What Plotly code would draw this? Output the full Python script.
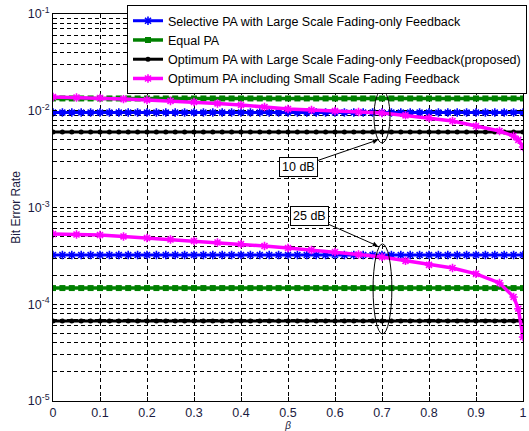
import plotly.graph_objects as go
import math

# ---- data ----
BETA = [0.00, 0.02, 0.04, 0.06, 0.08, 0.10, 0.12, 0.14, 0.16, 0.18,
        0.20, 0.22, 0.24, 0.26, 0.28, 0.30, 0.32, 0.34, 0.36, 0.38,
        0.40, 0.42, 0.44, 0.46, 0.48, 0.50, 0.52, 0.54, 0.56, 0.58,
        0.60, 0.62, 0.64, 0.66, 0.68, 0.70, 0.72, 0.74, 0.76, 0.78,
        0.80, 0.82, 0.84, 0.86, 0.88, 0.90, 0.92, 0.94, 0.96, 0.98, 1.00]

# constant-BER schemes (value independent of beta)
SEL_10DB = 0.00958
EQ_10DB = 0.0134
OPT_10DB = 0.00603
SEL_25DB = 3.23e-4
EQ_25DB = 1.47e-4
OPT_25DB = 6.71e-5

# optimum PA including small scale fading feedback
BETA_SSF = [0.00, 0.05, 0.10, 0.15, 0.20, 0.25, 0.30, 0.35, 0.40, 0.45,
            0.50, 0.55, 0.60, 0.65, 0.70, 0.75, 0.80, 0.85, 0.90, 0.95,
            0.98, 0.99, 1.00]
SSF_10DB = [0.01387, 0.01370, 0.01355, 0.01320, 0.01292, 0.01262, 0.01232,
            0.01190, 0.01146, 0.01095, 0.01042, 0.01018, 0.00994, 0.00971,
            0.00948, 0.00895, 0.00841, 0.00783, 0.00695, 0.00617,
            0.00548, 0.00500, 0.00422]
SSF_25DB = [5.32e-4, 5.26e-4, 5.20e-4, 5.02e-4, 4.84e-4, 4.67e-4, 4.51e-4,
            4.35e-4, 4.19e-4, 4.00e-4, 3.81e-4, 3.64e-4, 3.47e-4, 3.27e-4,
            3.08e-4, 2.81e-4, 2.55e-4, 2.37e-4, 2.06e-4, 1.66e-4,
            1.19e-4, 0.90e-4, 4.59e-5]

NAMES = ["Selective PA with Large Scale Fading-only Feedback",
         "Equal PA",
         "Optimum PA with Large Scale Fading-only Feedback(proposed)",
         "Optimum PA including Small Scale Fading Feedback"]
COLORS = ["#0000ff", "#008000", "#000000", "#ff00ff"]

X_TICKS = [0, 0.1, 0.2, 0.3, 0.4, 0.5, 0.6, 0.7, 0.8, 0.9, 1]
X_TICK_TEXT = ["0", "0.1", "0.2", "0.3", "0.4", "0.5", "0.6", "0.7", "0.8", "0.9", "1"]
Y_TICKS = [1e-5, 1e-4, 1e-3, 1e-2, 1e-1]
Y_TICK_TEXT = ["10<sup>-5</sup>", "10<sup>-4</sup>", "10<sup>-3</sup>",
               "10<sup>-2</sup>", "10<sup>-1</sup>"]

fig = go.Figure()

n = len(BETA)
styles = [
    dict(width=3, marker=dict(symbol="asterisk-open", size=7, line=dict(width=1.6, color=COLORS[0]))),
    dict(width=3.5, marker=dict(symbol="square", size=6, color=COLORS[1])),
    dict(width=3, marker=dict(symbol="circle", size=5, color=COLORS[2])),
    dict(width=3.5, marker=dict(symbol="asterisk-open", size=7, line=dict(width=1.6, color=COLORS[3]))),
]

const_pairs = [(SEL_10DB, SEL_25DB), (EQ_10DB, EQ_25DB), (OPT_10DB, OPT_25DB)]
for i, (v10, v25) in enumerate(const_pairs):
    for k, v in enumerate((v10, v25)):
        fig.add_trace(go.Scatter(
            x=BETA, y=[v] * n, mode="lines+markers", name=NAMES[i],
            legendgroup=NAMES[i], showlegend=(k == 0),
            line=dict(color=COLORS[i], width=styles[i]["width"]),
            marker=styles[i]["marker"]))

for k, ys in enumerate((SSF_10DB, SSF_25DB)):
    fig.add_trace(go.Scatter(
        x=BETA_SSF, y=ys, mode="lines+markers", name=NAMES[3],
        legendgroup=NAMES[3], showlegend=(k == 0),
        line=dict(color=COLORS[3], width=styles[3]["width"]),
        marker=styles[3]["marker"]))

# ellipses marking the SNR groups (data coordinates)
def ellipse(x0, x1, y0, y1):
    fig.add_shape(type="circle", xref="x", yref="y",
                  x0=x0, x1=x1, y0=y0, y1=y1,
                  line=dict(color="black", width=1))

ellipse(0.683, 0.717, 0.00465, 0.0164)
ellipse(0.681, 0.721, 4.93e-5, 4.2e-4)

def label(text, xh, yh, ax, ay):
    fig.add_annotation(x=xh, y=math.log10(yh), xref="x", yref="y", text=text,
                       showarrow=True, arrowhead=2, arrowsize=1, arrowwidth=1,
                       arrowcolor="black", ax=ax, ay=ay,
                       bordercolor="black", borderwidth=1, borderpad=2,
                       bgcolor="white", font=dict(size=12.5, color="black",
                                                  family="Liberation Sans, Arial"))

label("10 dB", 0.691, 10 ** -2.302, -79, 27)
label("25 dB", 0.691, 10 ** -3.398, -68, -30)

grid_dash = "4px,3px"
minor_vals = [m * 10 ** e for e in range(-5, -1) for m in range(2, 10)]

fig.update_xaxes(range=[0, 1], tickvals=X_TICKS, ticktext=X_TICK_TEXT,
                 showline=True, linecolor="black", linewidth=1, mirror="ticks",
                 ticks="inside", ticklen=4, tickcolor="black",
                 showgrid=True, gridcolor="black", gridwidth=1, griddash=grid_dash,
                 zeroline=False,
                 tickfont=dict(size=12.5, color="#1a1a40", family="Liberation Sans, Arial"),
                 title=dict(text="<i>β</i>", font=dict(size=10, color="#1a1a40"), standoff=2))
fig.update_yaxes(type="log", range=[-5, -1], tickvals=Y_TICKS, ticktext=Y_TICK_TEXT,
                 showline=True, linecolor="black", linewidth=1, mirror="ticks",
                 ticks="inside", ticklen=4, tickcolor="black",
                 showgrid=True, gridcolor="black", gridwidth=1, griddash=grid_dash,
                 zeroline=False,
                 minor=dict(tickvals=minor_vals, ticks="inside", ticklen=2,
                            tickcolor="black", showgrid=True, gridcolor="black",
                            gridwidth=1, griddash=grid_dash),
                 tickfont=dict(size=12.5, color="#1a1a40", family="Liberation Sans, Arial"),
                 title=dict(text="Bit Error Rate", font=dict(size=12, color="#1a1a40"), standoff=4))

fig.update_layout(
    width=529, height=431,
    margin=dict(l=53, r=6, t=14, b=30, autoexpand=False),
    paper_bgcolor="white", plot_bgcolor="white",
    font=dict(family="Liberation Sans, Arial", size=12, color="black"),
    legend=dict(x=1.0085, y=1.023, xanchor="right", yanchor="top",
                bgcolor="white", bordercolor="black", borderwidth=1,
                font=dict(size=12.5, color="black"), tracegroupgap=0,
                itemwidth=30),
    showlegend=True,
)

fig.write_html("out.html")
